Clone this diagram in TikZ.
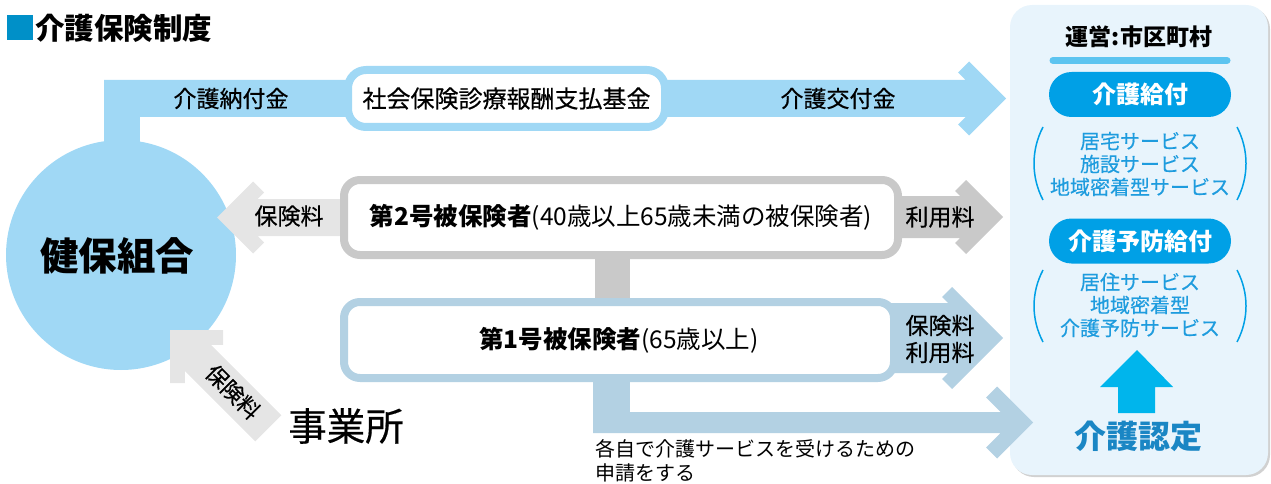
\documentclass[tikz,border=0pt]{standalone}
\usepackage{fontspec}
\setmainfont{Noto Sans CJK JP}
\newfontfamily\medium{Noto Sans CJK JP}[FakeBold=0.45]
\definecolor{flowblue}{RGB}{160,216,245}
\definecolor{grayL}{RGB}{229,229,229}
\definecolor{grayD}{RGB}{201,201,201}
\definecolor{steel}{RGB}{179,209,227}
\definecolor{panelbg}{RGB}{232,244,252}
\definecolor{rule}{RGB}{92,196,240}
\definecolor{pillblue}{RGB}{0,160,230}
\definecolor{svcblue}{RGB}{30,156,222}
\definecolor{upblue}{RGB}{0,181,236}
\definecolor{ninteiblue}{RGB}{26,134,196}
\definecolor{titleblue}{RGB}{0,144,200}
\newcommand{\myfs}[2]{\fontsize{#1}{#2}\selectfont}
% colour, tip x, tip y, rotation, length, half width, head half, chamfer
\newcommand{\fatarrow}[8]{%
  \fill[#1, shift={(#2,#3)}, rotate=#4] (-#5,-#6) -- ({-2*#8-#6},-#6) -- ({-#7-#8},{-#7+#8}) -- (-#7,-#7) -- (0,0) -- (-#7,#7) -- ({-#7-#8},{#7-#8}) -- ({-2*#8-#6},#6) -- (-#5,#6) -- cycle;}
\tikzset{
  lab/.style={inner sep=0pt, font=\medium\myfs{23}{27}, align=center},
  boxtxt/.style={inner sep=0pt, font=\myfs{24.5}{28}},
  frame/.style={line width=8pt, fill=white, rounded corners=16pt, inner sep=0pt},
  pillbox/.style={fill=pillblue, rounded corners=22.5pt, minimum width=182pt, minimum height=45pt, text=white, font=\bfseries\myfs{24}{28}, inner sep=0pt},
  svc/.style={text=svcblue, font=\medium\myfs{20}{23}, align=center, inner sep=0pt},
  paren/.style={draw=pillblue, line width=1.5pt},
}
\begin{document}
\begin{tikzpicture}[x=1pt,y=-1pt]
\useasboundingbox (0,0) rectangle (1271,484);
% right panel
\fill[black!18, rounded corners=22pt] (1012,7) rectangle (1270,477);
\fill[panelbg, rounded corners=22pt] (1010,5) rectangle (1268,475);
% title
\fill[titleblue] (7,15) rectangle (33,40);
\node[anchor=west, inner sep=0pt, font=\bfseries\myfs{29.5}{31}] (title) at (35,28) {介護保険制度};
% circle
\node[circle, fill=flowblue, minimum size=230pt, inner sep=0pt] (kenpo) at (121,255) {};
% flows
\fill[flowblue] (104,80) rectangle (140,200);
\fatarrow{flowblue}{1006}{98.5}{0}{902}{18.5}{37}{11}
\fatarrow{grayL}{217}{217.5}{180}{130}{18.5}{36}{11}
\fatarrow{grayL}{170}{330}{135}{139}{18.5}{37.5}{10.5}
\fatarrow{grayD}{1003}{217}{0}{130}{21}{37}{11}
\fatarrow{steel}{1003}{338}{0}{130}{35}{51}{10}
\fill[steel] (593,370) rectangle (630,433);
\fatarrow{steel}{1033}{422.5}{0}{440}{10.5}{36}{11}
\fill[grayD] (595,250) rectangle (630,305);
% boxes
\node[frame, draw=flowblue, rounded corners=18pt, minimum width=317pt, minimum height=57pt, boxtxt, font=\medium\myfs{24}{28}] (fund) at (506.5,98.5) {社会保険診療報酬支払基金};
\node[frame, draw=grayD, minimum width=554pt, minimum height=75pt, boxtxt] (ins2) at (621,217.5) {{\bfseries 第2号被保険者}(40歳以上65歳未満の被保険者)};
\node[frame, draw=steel, minimum width=550pt, minimum height=76pt, boxtxt] (ins1) at (619,340) {{\bfseries 第1号被保険者}(65歳以上)};
% labels
\node[lab] (noufu) at (231,98.5) {介護納付金};
\node[lab] (koufu) at (838,98.5) {介護交付金};
\node[lab] (hokenL) at (289,216) {保険料};
\node[lab] (riyou2) at (940,217) {利用料};
\node[lab] (riyou1) at (940,339) {保険料\\利用料};
\node[inner sep=0pt, font=\medium\myfs{22}{26}, rotate=-45] (hokenD) at (233,392) {保険料};
\node[inner sep=0pt, font=\bfseries\myfs{38.5}{40}] (kenpotxt) at (117,256) {健保組合};
\node[inner sep=0pt, font=\medium\myfs{38.5}{40}] (jigyo) at (346,426) {事業所};
\node[anchor=north west, inner sep=0pt, font=\myfs{20}{24}, align=left] (apply) at (595,439) {各自で介護サービスを受けるための\\申請をする};
% panel contents
\node[inner sep=0pt, font=\bfseries\myfs{23}{26}] (unei) at (1139,37) {運営:市区町村};
\draw[rule, line width=7pt, line cap=round] (1053,60.5) -- (1227,60.5);
\node[pillbox] (kyufu) at (1140,94.5) {介護給付};
\node[svc] (svc1) at (1140,164) {居宅サービス\\施設サービス\\地域密着型サービス};
\draw[paren] (1043,127) .. controls (1031,150) and (1031,177) .. (1043,200);
\draw[paren] (1237,127) .. controls (1249,150) and (1249,177) .. (1237,200);
\node[pillbox] (yobo) at (1140,241) {介護予防給付};
\node[svc] (svc2) at (1140,305) {居住サービス\\地域密着型\\介護予防サービス};
\draw[paren] (1043,270) .. controls (1031,293) and (1031,319) .. (1043,342);
\draw[paren] (1237,270) .. controls (1249,293) and (1249,319) .. (1237,342);
\fill[upblue] (1137,350) -- (1173,387) -- (1155,387) -- (1155,413) -- (1118,413) -- (1118,387) -- (1100,387) -- cycle;
\node[inner sep=0pt, text=ninteiblue, font=\bfseries\myfs{32}{34}] (nintei) at (1138,436) {介護認定};
\end{tikzpicture}
\end{document}
